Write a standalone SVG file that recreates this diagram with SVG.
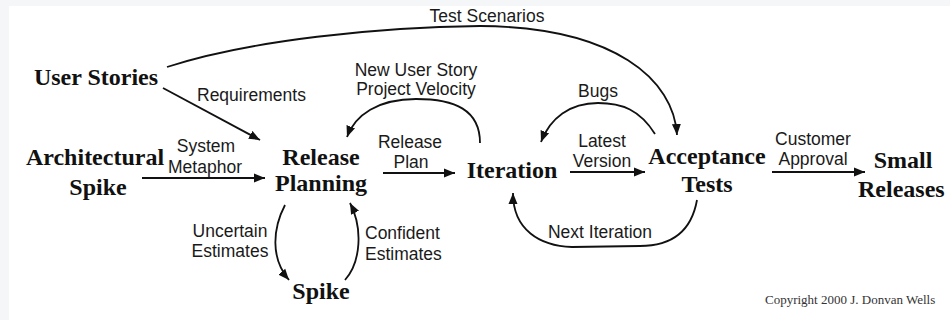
<svg xmlns="http://www.w3.org/2000/svg" width="950" height="320" viewBox="0 0 950 320">
<style>
.node{font-family:"Liberation Serif","Times New Roman",serif;font-weight:bold;font-size:24px;fill:#111}
.lbl{font-family:"Liberation Sans",Arial,sans-serif;font-size:17.5px;fill:#1a1a1a}
.copy{font-family:"Liberation Serif","Times New Roman",serif;font-size:13px;fill:#333}
.edge{fill:none;stroke:#111;stroke-width:1.8}
</style>
<defs>
<marker id="ah" markerUnits="userSpaceOnUse" markerWidth="12" markerHeight="10" refX="11" refY="5" orient="auto">
<path d="M0,0.5 L11,5 L0,9.5 z" fill="#111"/>
</marker>
</defs>
<rect x="0" y="0" width="950" height="320" fill="#f5f6f8"/>
<rect x="9" y="6" width="941" height="314" fill="#ffffff"/>

<g id="connectors">
<path id="e-test-scenarios" class="edge" d="M167,67 C250,40 380,27 480,26 C615,27 674,80 677,135" marker-end="url(#ah)"/>
<path id="e-requirements" class="edge" d="M163,88 L260,140" marker-end="url(#ah)"/>
<path id="e-metaphor" class="edge" d="M142,178 L265,178" marker-end="url(#ah)"/>
<path id="e-release-plan" class="edge" d="M383,173 L455,173" marker-end="url(#ah)"/>
<path id="e-velocity" class="edge" d="M480,143 C480,110 455,99 416,99 C378,99 355,115 347,137" marker-end="url(#ah)"/>
<path id="e-latest" class="edge" d="M570,172 L645,172" marker-end="url(#ah)"/>
<path id="e-bugs" class="edge" d="M655,134 C640,110 622,103 598,103 C570,103 550,118 541,142" marker-end="url(#ah)"/>
<path id="e-next" class="edge" d="M697,200 C692,228 675,246 640,246 L572,247 C540,246 513,230 513,193" marker-end="url(#ah)"/>
<path id="e-approval" class="edge" d="M772,172 L865,172" marker-end="url(#ah)"/>
<path id="e-uncertain" class="edge" d="M285,205 C273,228 270,258 289,280" marker-end="url(#ah)"/>
<path id="e-confident" class="edge" d="M345,280 C361,262 363,228 350,203" marker-end="url(#ah)"/>
</g>

<g id="labels">
<text class="lbl" x="487" y="22" text-anchor="middle">Test Scenarios</text>
<text class="lbl" x="197" y="101">Requirements</text>
<text class="lbl" x="206" y="152" text-anchor="middle">System</text>
<text class="lbl" x="205" y="173" text-anchor="middle">Metaphor</text>
<text class="lbl" x="410" y="148" text-anchor="middle">Release</text>
<text class="lbl" x="411" y="168" text-anchor="middle">Plan</text>
<text class="lbl" x="416" y="76" text-anchor="middle">New User Story</text>
<text class="lbl" x="416" y="95" text-anchor="middle">Project Velocity</text>
<text class="lbl" x="598" y="97" text-anchor="middle">Bugs</text>
<text class="lbl" x="602" y="147" text-anchor="middle">Latest</text>
<text class="lbl" x="602" y="167" text-anchor="middle">Version</text>
<text class="lbl" x="600" y="238" text-anchor="middle">Next Iteration</text>
<text class="lbl" x="813" y="145" text-anchor="middle">Customer</text>
<text class="lbl" x="813" y="165" text-anchor="middle">Approval</text>
<text class="lbl" x="230" y="237" text-anchor="middle">Uncertain</text>
<text class="lbl" x="230" y="257" text-anchor="middle">Estimates</text>
<text class="lbl" x="365" y="239">Confident</text>
<text class="lbl" x="365" y="260">Estimates</text>
</g>

<g id="user-stories"><text class="node" x="96" y="85" text-anchor="middle">User Stories</text></g>
<g id="architectural-spike">
<text class="node" x="95" y="165" text-anchor="middle">Architectural</text>
<text class="node" x="98" y="195" text-anchor="middle">Spike</text>
</g>
<g id="release-planning">
<text class="node" x="321" y="165" text-anchor="middle">Release</text>
<text class="node" x="321" y="191" text-anchor="middle">Planning</text>
</g>
<g id="iteration"><text class="node" x="512" y="178" text-anchor="middle">Iteration</text></g>
<g id="acceptance-tests">
<text class="node" x="707" y="164" text-anchor="middle">Acceptance</text>
<text class="node" x="707" y="192" text-anchor="middle">Tests</text>
</g>
<g id="small-releases">
<text class="node" x="903" y="168" text-anchor="middle">Small</text>
<text class="node" x="858" y="197">Releases</text>
</g>
<g id="spike"><text class="node" x="321" y="299" text-anchor="middle">Spike</text></g>
<g id="copyright"><text class="copy" x="765" y="304">Copyright 2000 J. Donvan Wells</text></g>
</svg>
